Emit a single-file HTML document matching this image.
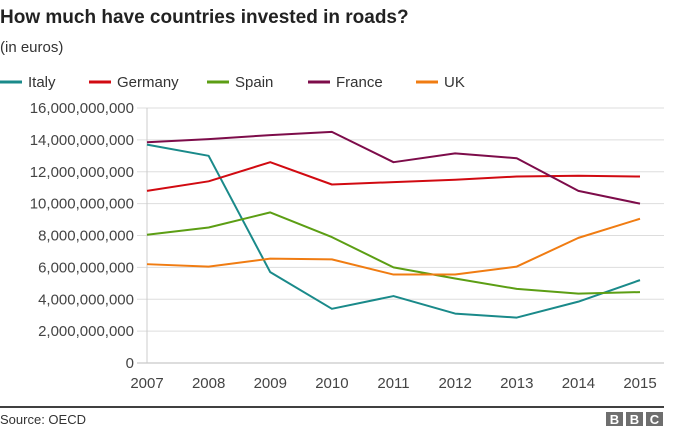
<!DOCTYPE html>
<html><head><meta charset="utf-8"><style>
body{margin:0;background:#fff;font-family:"Liberation Sans",Arial,sans-serif;}
#wrap{position:relative;width:700px;height:431px;overflow:hidden;}
</style></head><body>
<div id="wrap">
<svg id="chart" width="700" height="431">
<text x="0" y="23" font-size="19" font-weight="bold" fill="#222">How much have countries invested in roads?</text>
<text x="0" y="52" font-size="15" fill="#333">(in euros)</text>
<g id="legend"></g>
<g id="grid"></g>
<g id="yaxis"></g>
<g id="xaxis"></g>
<g id="series"></g>
<line x1="0" y1="407" x2="664" y2="407" stroke="#000" stroke-width="1.5"/>
<text x="0" y="424" font-size="13" fill="#333">Source: OECD</text>
<g>
<rect x="606" y="412" width="17" height="14" fill="#6e6e6e"/><rect x="626" y="412" width="17" height="14" fill="#6e6e6e"/><rect x="646" y="412" width="17" height="14" fill="#6e6e6e"/>
<text x="614.5" y="424" font-size="13" font-weight="bold" fill="#fff" text-anchor="middle">B</text>
<text x="634.5" y="424" font-size="13" font-weight="bold" fill="#fff" text-anchor="middle">B</text>
<text x="654.5" y="424" font-size="13" font-weight="bold" fill="#fff" text-anchor="middle">C</text>
</g>
</svg>
</div>
<script>
const years = [2007,2008,2009,2010,2011,2012,2013,2014,2015];
const italy = [13.7,13.0,5.7,3.4,4.2,3.1,2.85,3.85,5.2];
const germany = [10.8,11.4,12.6,11.2,11.35,11.5,11.7,11.75,11.7];
const spain = [8.05,8.5,9.45,7.9,6.0,5.3,4.65,4.35,4.45];
const france = [13.85,14.05,14.3,14.5,12.6,13.15,12.85,10.8,10.0];
const uk = [6.2,6.05,6.55,6.5,5.55,5.55,6.05,7.85,9.05];
const seriesNames = ["Italy","Germany","Spain","France","UK"];
const yTicks = [0,2,4,6,8,10,12,14,16];
const yTickLabels = ["0","2,000,000,000","4,000,000,000","6,000,000,000","8,000,000,000","10,000,000,000","12,000,000,000","14,000,000,000","16,000,000,000"];

const NS="http://www.w3.org/2000/svg";
const colors=["#1a8a8a","#d10a11","#5c9e14","#7d0c4a","#f07c12"];
const allSeries=[italy,germany,spain,france,uk];
const x0=147,x1=640,yBase=363,yTop=108;
function xs(i){return x0+(x1-x0)*i/(years.length-1);}
function ys(v){return yBase-(yBase-yTop)*v/16;}
function mk(tag,attrs,parent){const e=document.createElementNS(NS,tag);for(const k in attrs)e.setAttribute(k,attrs[k]);parent.appendChild(e);return e;}
const grid=document.getElementById('grid'),yax=document.getElementById('yaxis'),xax=document.getElementById('xaxis'),ser=document.getElementById('series'),leg=document.getElementById('legend');
yTicks.forEach((t,i)=>{
 const l=mk('line',{x1:137,x2:664,y1:ys(t),y2:ys(t),stroke:t===0?'#bbb':'#ddd','stroke-width':1},grid);
 
 
 const tx=mk('text',{x:134,y:ys(t)+5,'font-size':15,fill:'#444','text-anchor':'end'},yax);
 tx.textContent=yTickLabels[i];
 
 
});
const vl=mk('line',{x1:x0,x2:x0,y1:yTop,y2:yBase,stroke:'#ccc','stroke-width':1},grid);


years.forEach((y,i)=>{
 const tx=mk('text',{x:xs(i),y:388,'font-size':15,fill:'#444','text-anchor':'middle'},xax);
 tx.textContent=y;
 
 
});
allSeries.forEach((s,k)=>{
 const p=mk('polyline',{points:s.map((v,i)=>xs(i)+','+ys(v)).join(' '),fill:'none',stroke:colors[k],'stroke-width':2,'stroke-linejoin':'round'},ser);
 
 
});
const legX=[0,89,207,308,416];
seriesNames.forEach((n,k)=>{
 const g=mk('g',{},leg);
 
 
 mk('line',{x1:legX[k],x2:legX[k]+22,y1:82,y2:82,stroke:colors[k],'stroke-width':3},g);
 const t=mk('text',{x:legX[k]+28,y:87,'font-size':15,fill:'#333'},g);
 t.textContent=n;
});
</script>
</body></html>
